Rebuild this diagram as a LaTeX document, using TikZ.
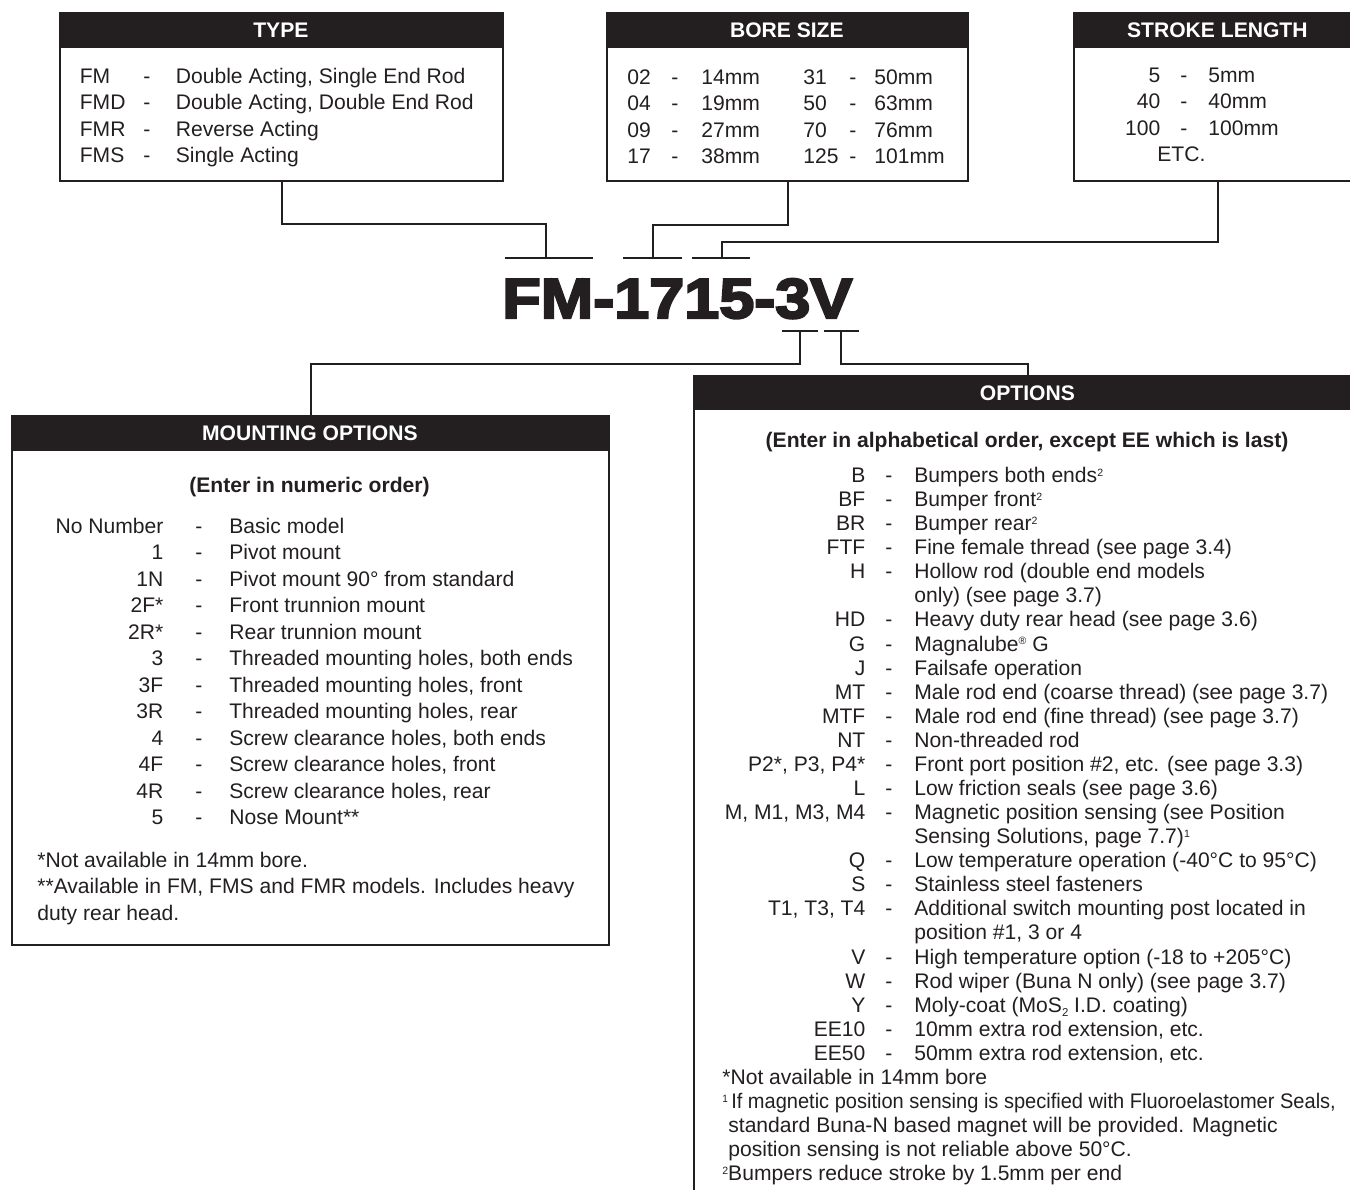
\documentclass[tikz,border=0pt]{standalone}
\usepackage{fontspec}
\usepackage{array}
\usepackage{graphicx}
\setmainfont{Liberation Sans}
\newfontfamily\codefont{Liberation Sans Bold}[FakeBold=4,FakeStretch=1.12]

\definecolor{ink}{HTML}{231F20}
\newcommand{\setrows}[1]{\fontsize{12}{#1}\selectfont}
\newcommand{\supnum}[1]{\smash{\raisebox{0.55ex}{\fontsize{6}{6}\selectfont #1}}}
\newcommand{\subnum}[1]{\smash{\raisebox{-0.35ex}{\fontsize{6.5}{6.5}\selectfont #1}}}
\newcolumntype{R}[1]{>{\raggedleft\arraybackslash}p{#1}}
\newcolumntype{L}[1]{>{\raggedright\arraybackslash}p{#1}}

\tikzset{
    box/.style={draw=ink, line width=1.2pt, anchor=north west, inner sep=0pt},
    head/.style={fill=ink, text=white, anchor=north west, inner sep=0pt,
        font=\bfseries\setrows{14}},
    txt/.style={anchor=base west, inner sep=0pt, text=ink},
    wire/.style={draw=ink, line width=1.2pt},
    bar/.style={draw=ink, line width=1.5pt},
}

\begin{document}
\begin{tikzpicture}

    \useasboundingbox (0,0) rectangle (27,-23.78);
    \clip (0,0) rectangle (27,-23.78);

    %% Top row of boxes
    % Type
    \node[box, minimum width=8.86cm, minimum height=3.36cm] (type) at (1.18,-0.24) {};
    \node[head, minimum width=8.86cm, minimum height=0.72cm] (typehead) at (type.north west) {TYPE};
    \node[txt, font=\setrows{15}] (typetxt) at (1.59,-1.67) {\begin{tabular}[t]{@{}L{1.27cm}@{}l@{\hspace{0.51cm}}l@{}}
        FM & - & Double Acting, Single End Rod\\
        FMD & - & Double Acting, Double End Rod\\
        FMR & - & Reverse Acting\\
        FMS & - & Single Acting
    \end{tabular}};

    % Bore size
    \node[box, minimum width=7.22cm, minimum height=3.36cm] (bore) at (12.12,-0.24) {};
    \node[head, minimum width=7.22cm, minimum height=0.72cm] (borehead) at (bore.north west) {BORE SIZE};
    \node[txt, font=\setrows{15}] (boretxt) at (12.54,-1.69) {\begin{tabular}[t]{@{}L{0.88cm}@{}l@{\hspace{0.46cm}}L{2.04cm}@{}L{0.92cm}@{}l@{\hspace{0.36cm}}l@{}}
        02 & - & 14mm & 31 & - & 50mm\\
        04 & - & 19mm & 50 & - & 63mm\\
        09 & - & 27mm & 70 & - & 76mm\\
        17 & - & 38mm & 125 & - & 101mm
    \end{tabular}};

    % Stroke length
    \node[box, minimum width=5.76cm, minimum height=3.36cm] (stroke) at (21.46,-0.24) {};
    \node[head, minimum width=5.76cm, minimum height=0.72cm] (strokehead) at (stroke.north west) {STROKE LENGTH};
    \node[txt, font=\setrows{15}] (stroketxt) at (22.20,-1.65) {\begin{tabular}[t]{@{}R{1cm}@{\hspace{0.4cm}}l@{\hspace{0.42cm}}l@{}}
        5 & - & 5mm\\
        40 & - & 40mm\\
        100 & - & 100mm\\
        \multicolumn{3}{@{\hspace{0.94cm}}l@{}}{ETC.}
    \end{tabular}};

    %% Model code
    \node[txt, font=\codefont\fontsize{32}{32}\selectfont] (code) at (10.04,-6.36) {FM-1715-3V};

    % Bars over and under the code
    \coordinate (typebar) at (10.92,-5.16);
    \coordinate (borebar) at (13.06,-5.16);
    \coordinate (strokebar) at (14.44,-5.16);
    \coordinate (mountbar) at (16.00,-6.62);
    \coordinate (optbar) at (16.82,-6.62);
    \draw[bar] (10.10,-5.16) -- (11.86,-5.16);
    \draw[bar] (12.46,-5.16) -- (13.64,-5.16);
    \draw[bar] (13.84,-5.16) -- (15.00,-5.16);
    \draw[bar] (15.64,-6.62) -- (16.36,-6.62);
    \draw[bar] (16.48,-6.62) -- (17.18,-6.62);

    %% Mounting options
    \node[box, minimum width=11.94cm, minimum height=10.58cm] (mount) at (0.22,-8.30) {};
    \node[head, minimum width=11.94cm, minimum height=0.72cm] (mounthead) at (mount.north west) {MOUNTING OPTIONS};
    \node[anchor=base, inner sep=0pt, text=ink, font=\bfseries\setrows{14}] (mountsub) at (6.19,-9.85) {(Enter in numeric order)};
    \node[txt, font=\setrows{15.06}] (mounttxt) at (0.26,-10.67) {\begin{tabular}[t]{@{}R{3cm}@{\hspace{0.64cm}}l@{\hspace{0.54cm}}l@{}}
        No Number & - & Basic model\\
        1 & - & Pivot mount\\
        1N & - & Pivot mount 90° from standard\\
        2F* & - & Front trunnion mount\\
        2R* & - & Rear trunnion mount\\
        3 & - & Threaded mounting holes, both ends\\
        3F & - & Threaded mounting holes, front\\
        3R & - & Threaded mounting holes, rear\\
        4 & - & Screw clearance holes, both ends\\
        4F & - & Screw clearance holes, front\\
        4R & - & Screw clearance holes, rear\\
        5 & - & Nose Mount**
    \end{tabular}};
    \node[txt, font=\setrows{15.06}] (mountnote) at (0.74,-17.35) {\begin{tabular}[t]{@{}l@{}}
        *Not available in 14mm bore.\\
        {}**Available in FM, FMS and FMR models. Includes heavy\\
        duty rear head.
    \end{tabular}};

    %% Options
    \node[box, minimum width=13.36cm, minimum height=16.5cm] (opt) at (13.86,-7.50) {};
    \node[head, minimum width=13.36cm, minimum height=0.70cm] (opthead) at (opt.north west) {OPTIONS};
    \node[anchor=base, inner sep=0pt, text=ink, font=\bfseries\setrows{14}] (optsub) at (20.54,-8.95) {(Enter in alphabetical order, except EE which is last)};
    \node[txt, font=\setrows{13.7}] (opttxt) at (14.30,-9.65) {\begin{tabular}[t]{@{}R{3cm}@{\hspace{0.40cm}}l@{\hspace{0.44cm}}l@{}}
        B & - & Bumpers both ends\supnum{2}\\
        BF & - & Bumper front\supnum{2}\\
        BR & - & Bumper rear\supnum{2}\\
        FTF & - & Fine female thread (see page 3.4)\\
        H & - & Hollow rod (double end models\\
          &   & only) (see page 3.7)\\
        HD & - & Heavy duty rear head (see page 3.6)\\
        G & - & Magnalube\supnum{®} G\\
        J & - & Failsafe operation\\
        MT & - & Male rod end (coarse thread) (see page 3.7)\\
        MTF & - & Male rod end (fine thread) (see page 3.7)\\
        NT & - & Non-threaded rod\\
        P2*, P3, P4* & - & Front port position \#2, etc. (see page 3.3)\\
        L & - & Low friction seals (see page 3.6)\\
        M, M1, M3, M4 & - & Magnetic position sensing (see Position\\
          &   & Sensing Solutions, page 7.7)\supnum{1}\\
        Q & - & Low temperature operation (-40°C to 95°C)\\
        S & - & Stainless steel fasteners\\
        T1, T3, T4 & - & Additional switch mounting post located in\\
          &   & position \#1, 3 or 4\\
        V & - & High temperature option (-18 to +205°C)\\
        W & - & Rod wiper (Buna N only) (see page 3.7)\\
        Y & - & Moly-coat (MoS\subnum{2} I.D. coating)\\
        EE10 & - & 10mm extra rod extension, etc.\\
        EE50 & - & 50mm extra rod extension, etc.
    \end{tabular}};
    \node[txt, font=\setrows{13.7}] (optnote) at (14.44,-21.69) {\begin{tabular}[t]{@{}l@{}}
        *Not available in 14mm bore\\
        \scalebox{0.95}[1]{\supnum{1}\,If magnetic position sensing is specified with Fluoroelastomer Seals,}\\
        \hspace{0.12cm}standard Buna-N based magnet will be provided. Magnetic\\
        \hspace{0.12cm}position sensing is not reliable above 50°C.\\
        \supnum{2}Bumpers reduce stroke by 1.5mm per end
    \end{tabular}};

    %% Connectors
    \draw[wire] (type.south) -- ++(0,-0.84) -| (typebar);
    \draw[wire] (bore.south) -- ++(0,-0.86) -| (borebar);
    \draw[wire] (stroke.south) -- ++(0,-1.20) -| (strokebar);
    \draw[wire] (mountbar) -- ++(0,-0.66) -| (mount.north);
    \draw[wire] (optbar) -- ++(0,-0.66) -| (opt.north);

\end{tikzpicture}
\end{document}
